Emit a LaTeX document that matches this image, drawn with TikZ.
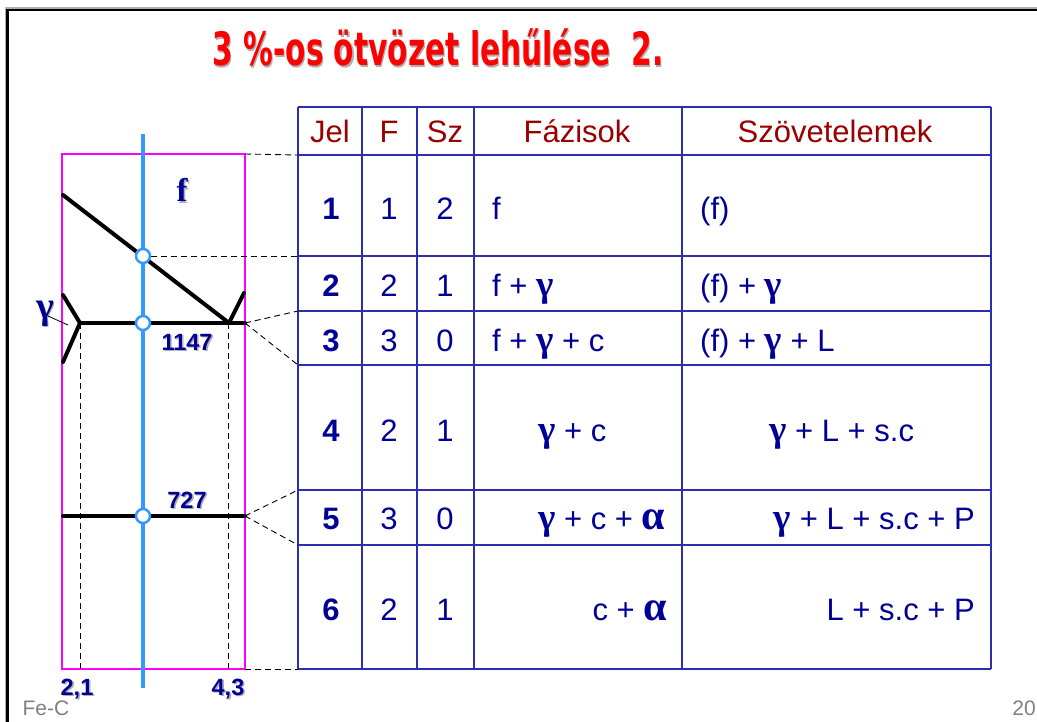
\documentclass[tikz,border=0pt]{standalone}
\usepackage{fontspec}
\usepackage{graphicx}
\setmainfont{Liberation Sans}
\newfontfamily\titlefont{DejaVu Sans}
\newfontfamily\serifgr{Liberation Serif}
\definecolor{navy}{RGB}{0,0,150}
\definecolor{hdr}{RGB}{153,0,0}
\definecolor{tline}{RGB}{45,45,175}
\definecolor{lblue}{RGB}{51,153,255}
\definecolor{mag}{RGB}{255,0,255}
\definecolor{ttlred}{RGB}{255,0,0}
\definecolor{shd}{RGB}{175,175,175}
\newcommand\shad[1]{\makebox[0pt][l]{\hspace{1.6bp}\raisebox{-1.6bp}{\textcolor{shd}{#1}}}#1}
\newcommand\gam{{\serifgr\bfseries\fontsize{37bp}{37bp}\selectfont γ}}
\newcommand\alf{{\serifgr\bfseries\fontsize{42bp}{42bp}\selectfont α}}
\begin{document}
\begin{tikzpicture}[x=1bp,y=-1bp,
  cell/.style={inner sep=0pt,anchor=base,text=navy,font=\fontsize{31bp}{31bp}\selectfont},
  cellw/.style={cell,anchor=base west},
  celle/.style={cell,anchor=base east},
  jel/.style={cell,font=\fontsize{31bp}{31bp}\selectfont\bfseries},
  head/.style={cell,text=hdr},
  tab/.style={draw=tline,line width=1.5bp},
  blk/.style={line width=4bp,black,line cap=round},
  dsh/.style={dashed,dash pattern=on 6bp off 4bp,line width=0.9bp,black},
  lbl/.style={inner sep=0pt,text=navy,font=\fontsize{23.5bp}{23.5bp}\selectfont\bfseries},
  ring/.style={circle,draw=lblue,fill=white,line width=2.5bp,minimum size=14bp,inner sep=0pt},
  foot/.style={inner sep=0pt,text=gray,font=\fontsize{21bp}{21bp}\selectfont}]
\useasboundingbox (0,0) rectangle (1037,722);
% frame
\draw[shd,line width=2bp] (5.5,722) -- (5.5,8) -- (1037,8);
\draw[black,line width=2.5bp] (7.5,722) -- (7.5,10) -- (1037,10);
% title
\node[inner sep=0pt,text=ttlred,font=\titlefont\bfseries\fontsize{46bp}{46bp}\selectfont,anchor=base] (title) at (438,66)
  {\scalebox{0.645}[1]{\shad{3 \%-os ötvözet lehűlése\ \ 2.}}};
% table grid
\foreach \x in {298,362,417,474,682,991}{
  \draw[tab] (\x,107) -- (\x,669);}
\foreach \y in {107,155,256,311,365,490,545,669}{
  \draw[tab] (298,\y) -- (991,\y);}
% table header
\node[head] (hJel) at (330,143) {Jel};
\node[head] (hF) at (389,143) {F};
\node[head] (hSz) at (445,143) {Sz};
\node[head] (hFaz) at (577,143) {Fázisok};
\node[head] (hSzov) at (835,143) {Szövetelemek};
% rows
\node[jel] (j1) at (331,219) {1}; \node[cell] (f1) at (389,219) {1}; \node[cell] (s1) at (445,219) {2};
\node[cellw] (p1) at (492,219) {f}; \node[cellw] (e1) at (700,219) {(f)};
\node[jel] (j2) at (331,296) {2}; \node[cell] (f2) at (389,296) {2}; \node[cell] (s2) at (445,296) {1};
\node[cellw] (p2) at (492,296) {f + \gam}; \node[cellw] (e2) at (700,296) {(f) + \gam};
\node[jel] (j3) at (331,351) {3}; \node[cell] (f3) at (389,351) {3}; \node[cell] (s3) at (445,351) {0};
\node[cellw] (p3) at (492,351) {f + \gam\ + c}; \node[cellw] (e3) at (700,351) {(f) + \gam\ + L};
\node[jel] (j4) at (331,441) {4}; \node[cell] (f4) at (389,441) {2}; \node[cell] (s4) at (445,441) {1};
\node[cellw] (p4) at (538,441) {\gam\ + c}; \node[cellw] (e4) at (769,441) {\gam\ + L + s.c};
\node[jel] (j5) at (331,529) {5}; \node[cell] (f5) at (389,529) {3}; \node[cell] (s5) at (445,529) {0};
\node[cellw] (p5) at (538,529) {\gam\ + c + \alf}; \node[celle] (e5) at (975,529) {\gam\ + L + s.c + P};
\node[jel] (j6) at (331,620) {6}; \node[cell] (f6) at (389,620) {2}; \node[cell] (s6) at (445,620) {1};
\node[celle] (p6) at (667,620) {c + \alf}; \node[celle] (e6) at (975,620) {L + s.c + P};
% diagram
\draw[mag,line width=1.3bp] (62,154) rectangle (245,669);
\draw[dsh] (80,323) -- (80,669);
\draw[dsh] (228,323) -- (228,669);
\draw[blk] (63,195) -- (229,323);
\draw[blk] (63,295) -- (80,323) -- (63,362);
\draw[blk] (229,323) -- (244,293);
\draw[blk] (80,323) -- (245,323);
\draw[blk] (63,516) -- (245,516);
\draw[lblue,line width=4bp] (143,134) -- (143,688);
\node[ring] (r1) at (143,256) {};
\node[ring] (r2) at (143,323) {};
\node[ring] (r3) at (143,516) {};
% connectors
\coordinate (tl) at (245,154); \coordinate (tt) at (298,155);
\coordinate (m1147) at (245,323); \coordinate (m727) at (245,516);
\coordinate (bl) at (245,669); \coordinate (bt) at (298,669);
\coordinate (t256) at (298,256);
\coordinate (t311) at (298,311); \coordinate (t365) at (298,365);
\coordinate (t490) at (298,490); \coordinate (t545) at (298,545);
\draw[dsh] (tl) -- (tt);
\draw[dsh] (r1.east) -- (t256);
\draw[dsh] (m1147) -- (t311); \draw[dsh] (m1147) -- (t365);
\draw[dsh] (m727) -- (t490); \draw[dsh] (m727) -- (t545);
\draw[dsh] (bl) -- (bt);
% labels
\node[inner sep=0pt,text=navy,font=\serifgr\bfseries\fontsize{33bp}{33bp}\selectfont,anchor=base] (lf) at (182,202) {\shad{f}};
\node[inner sep=0pt,text=navy,font=\serifgr\bfseries\fontsize{38bp}{38bp}\selectfont,anchor=base] (lg) at (45,318) {\shad{γ}};
\coordinate (gpt) at (68,325);
\draw[black,line width=0.8bp] (48,316) -- (gpt);
\node[lbl,anchor=base] (l1147) at (187,350) {\shad{1147}};
\node[lbl,anchor=base] (l727) at (187,508) {\shad{727}};
\node[lbl,anchor=base] (l21) at (77,695) {\shad{2,1}};
\node[lbl,anchor=base] (l43) at (228,695) {\shad{4,3}};
\node[foot,anchor=base] (fec) at (46,715) {Fe-C};
\node[foot,anchor=base] (pg) at (1024,715) {20};
\end{tikzpicture}
\end{document}
